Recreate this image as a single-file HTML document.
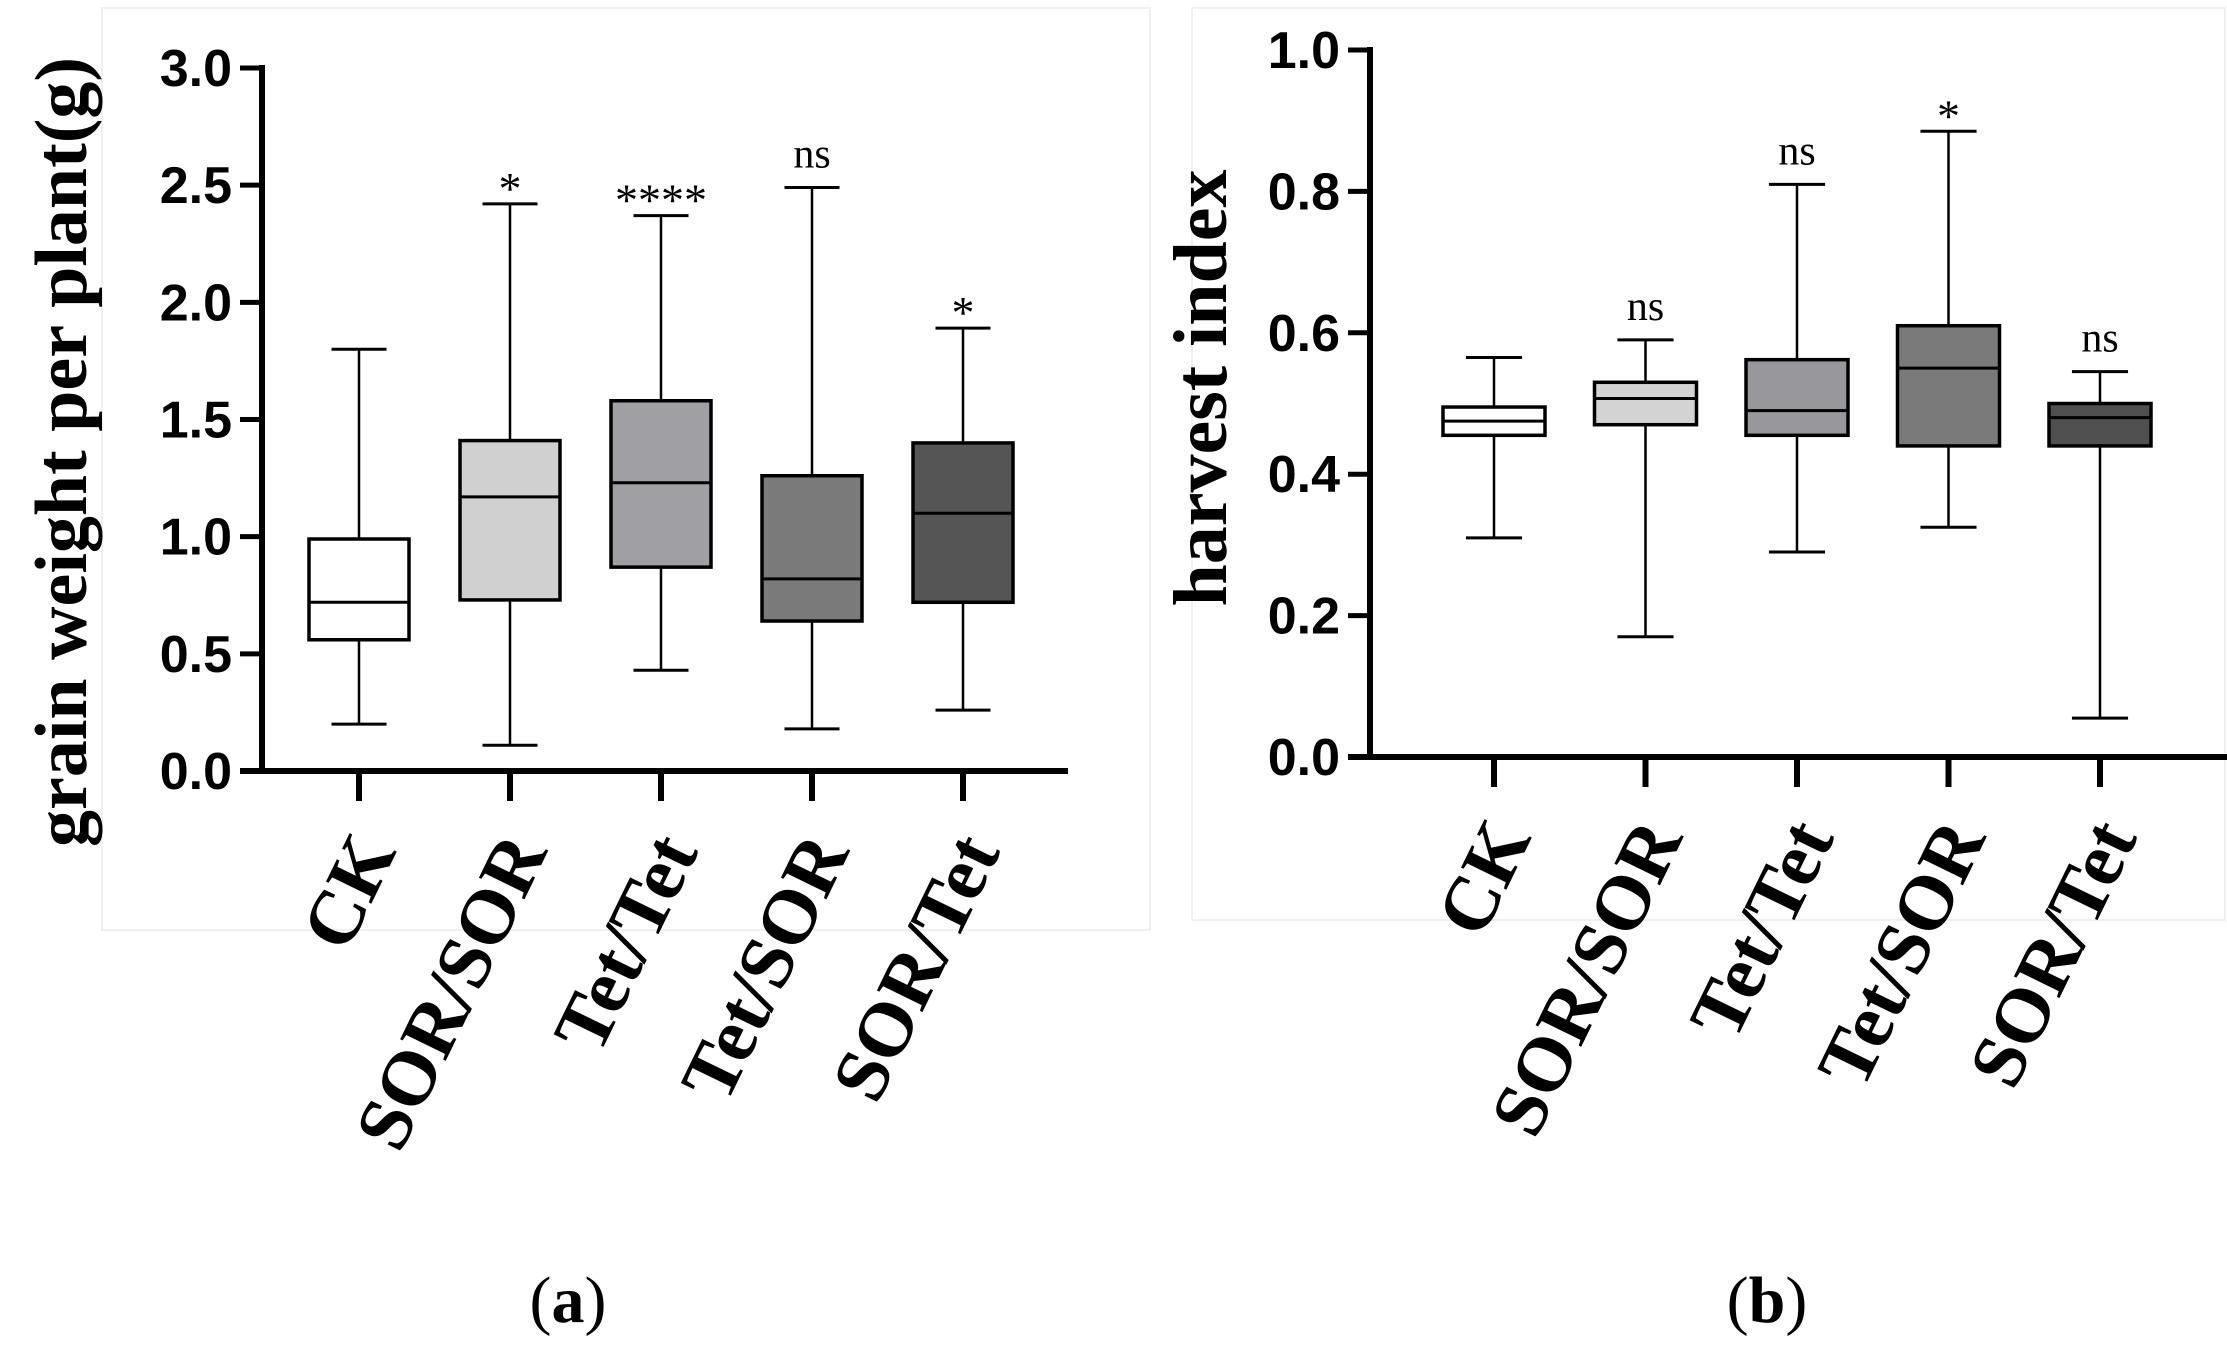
<!DOCTYPE html>
<html><head><meta charset="utf-8"><style>
html,body{margin:0;padding:0;background:#fff;}
svg{display:block}
</style></head><body>
<svg id="fig" width="2227" height="1354" xmlns="http://www.w3.org/2000/svg">
<rect x="0" y="0" width="2227" height="1354" fill="#fff"/>
<rect x="102" y="8" width="1048" height="922" fill="none" stroke="#f0f0f0" stroke-width="2"/>
<rect x="1192" y="8" width="1033" height="912" fill="none" stroke="#f0f0f0" stroke-width="2"/>
<text x="568" y="1322" font-family="Liberation Serif, serif" font-size="66" text-anchor="middle">(<tspan font-weight="bold">a</tspan>)</text>
<text x="1767" y="1322" font-family="Liberation Serif, serif" font-size="66" text-anchor="middle">(<tspan font-weight="bold">b</tspan>)</text>
</svg>
<script>
const categories = ["CK","SOR/SOR","Tet/Tet","Tet/SOR","SOR/Tet"];
const fillsA = ["#ffffff","#d0d0d0","#a0a0a4","#7a7a7a","#555555"];
const fillsB = ["#ffffff","#d3d3d3","#98989c","#7a7a7a","#505050"];
const gwMin = [0.20,0.11,0.43,0.18,0.26];
const gwQ1 = [0.56,0.73,0.87,0.64,0.72];
const gwMed = [0.72,1.17,1.23,0.82,1.10];
const gwQ3 = [0.99,1.41,1.58,1.26,1.40];
const gwMax = [1.80,2.42,2.37,2.49,1.89];
const gwSig = ["","*","****","ns","*"];
const gwTicks = [0,0.5,1.0,1.5,2.0,2.5,3.0];
const hiMin = [0.31,0.17,0.29,0.325,0.055];
const hiQ1 = [0.455,0.47,0.455,0.44,0.44];
const hiMed = [0.475,0.507,0.49,0.55,0.48];
const hiQ3 = [0.495,0.53,0.562,0.61,0.50];
const hiMax = [0.565,0.59,0.81,0.885,0.545];
const hiSig = ["","ns","ns","*","ns"];
const hiTicks = [0,0.2,0.4,0.6,0.8,1.0];

const NS="http://www.w3.org/2000/svg";
const svg=document.getElementById('fig');
function mk(tag,attrs,parent){const e=document.createElementNS(NS,tag);for(const k in attrs)e.setAttribute(k,attrs[k]);(parent||svg).appendChild(e);return e;}

function drawChart(cfg){
  const g=mk('g',{});
  
  
  const y=v=>cfg.y0+(cfg.y1-cfg.y0)*(v-cfg.vmin)/(cfg.vmax-cfg.vmin);
  const x=i=>cfg.xStart+i*cfg.xStep;
  const ya=mk('line',{x1:cfg.ax,y1:y(cfg.vmax)-3,x2:cfg.ax,y2:cfg.y0+3,stroke:'#000','stroke-width':6},g);
  
  
  const xa=mk('line',{x1:cfg.ax-22,y1:cfg.y0,x2:cfg.axEnd,y2:cfg.y0,stroke:'#000','stroke-width':6},g);
  
  
  cfg.ticks.forEach(t=>{
    const l=mk('line',{x1:cfg.ax-22,y1:y(t),x2:cfg.ax,y2:y(t),stroke:'#000','stroke-width':5},g);
    
    
    const tx=mk('text',{x:cfg.ax-30,y:y(t)+18,'text-anchor':'end','font-family':'Liberation Sans, sans-serif','font-weight':'bold','font-size':52},g);
    tx.textContent=t.toFixed(1);
    
    
  });
  const yt=mk('text',{x:0,y:0,transform:`translate(${cfg.titleX},${cfg.titleY}) rotate(-90)`,'text-anchor':'middle','font-family':'Liberation Serif, serif','font-weight':'bold','font-size':cfg.titleSize},g);
  yt.textContent=cfg.title;
  
  
  categories.forEach((c,i)=>{
    const cx=x(i), hw=cfg.bw/2;
    const tk=mk('line',{x1:cx,y1:cfg.y0,x2:cx,y2:cfg.y0+30,stroke:'#000','stroke-width':6},g);
    
    
    const lb=mk('text',{x:0,y:0,transform:`translate(${cx+38},${cfg.y0+80}) rotate(-64)`,'text-anchor':'end','font-family':'Liberation Serif, serif','font-weight':'bold','font-size':77},g);
    lb.textContent=c;
    
    
    const bg=mk('g',{},g);
    
    
    mk('line',{x1:cx,y1:y(cfg.max[i]),x2:cx,y2:y(cfg.q3[i]),stroke:'#000','stroke-width':2.5},bg);
    mk('line',{x1:cx,y1:y(cfg.q1[i]),x2:cx,y2:y(cfg.min[i]),stroke:'#000','stroke-width':2.5},bg);
    mk('line',{x1:cx-hw*0.55,y1:y(cfg.max[i]),x2:cx+hw*0.55,y2:y(cfg.max[i]),stroke:'#000','stroke-width':3},bg);
    mk('line',{x1:cx-hw*0.55,y1:y(cfg.min[i]),x2:cx+hw*0.55,y2:y(cfg.min[i]),stroke:'#000','stroke-width':3},bg);
    mk('rect',{x:cx-hw,y:y(cfg.q3[i]),width:cfg.bw,height:y(cfg.q1[i])-y(cfg.q3[i]),fill:cfg.fills[i],stroke:'#000','stroke-width':3.5},bg);
    mk('line',{x1:cx-hw,y1:y(cfg.med[i]),x2:cx+hw,y2:y(cfg.med[i]),stroke:'#000','stroke-width':3},bg);
    if(cfg.sig[i]){
      const isNs=cfg.sig[i]==='ns';
      const s=mk('text',{x:cx,y:y(cfg.max[i])-(isNs?20:0),'text-anchor':'middle','font-family':'Liberation Serif, serif','font-size':isNs?42:46},g);
      s.textContent=cfg.sig[i];
      
      
    }
  });
}
drawChart({name:'chart-grain-weight',y0:771,y1:68,vmin:0,vmax:3,ax:262,axEnd:1068,xStart:359,xStep:151,bw:100,
  ticks:gwTicks,min:gwMin,q1:gwQ1,med:gwMed,q3:gwQ3,max:gwMax,sig:gwSig,fills:fillsA,
  title:'grain weight per plant(g)',titleX:86,titleY:452,titleSize:74});
drawChart({name:'chart-harvest-index',y0:757,y1:50,vmin:0,vmax:1,ax:1370,axEnd:2227,xStart:1494,xStep:151.5,bw:102,
  ticks:hiTicks,min:hiMin,q1:hiQ1,med:hiMed,q3:hiQ3,max:hiMax,sig:hiSig,fills:fillsB,
  title:'harvest index',titleX:1226,titleY:388,titleSize:76});
</script>
</body></html>
